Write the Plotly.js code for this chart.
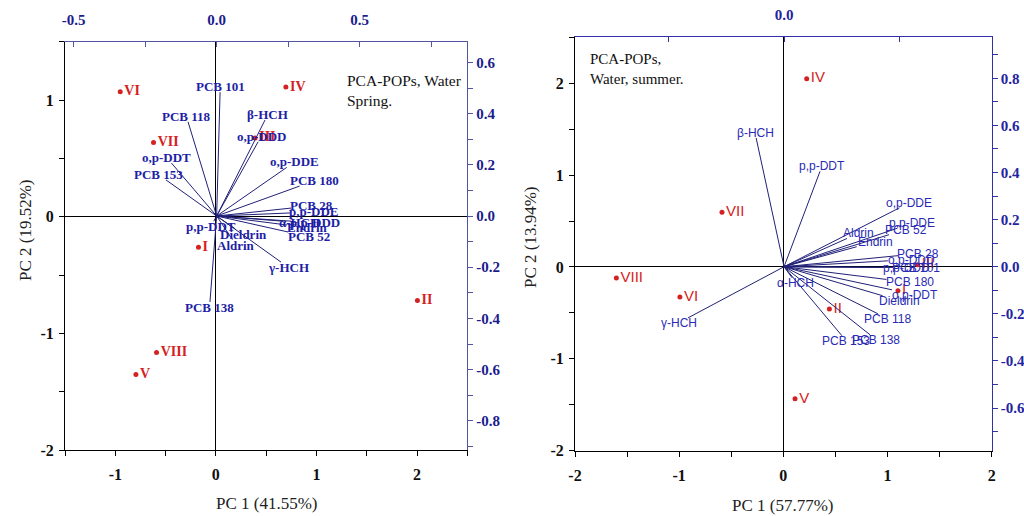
<!DOCTYPE html>
<html><head><meta charset="utf-8">
<script src="https://cdn.plot.ly/plotly-3.0.1.min.js"></script>
<style>html,body{margin:0;padding:0;background:#fff}</style>
</head><body><div id="chart" style="width:1024px;height:516px"></div>
<script>
// ---------- Panel A : water, spring ----------
const springSites = ['I','II','III','IV','V','VI','VII','VIII'];
const springPC1 = [-0.173, 2.004, 0.39, 0.696, -0.795, -0.951, -0.62, -0.59];
const springPC2 = [-0.262, -0.718, 0.675, 1.111, -1.353, 1.071, 0.635, -1.165];
const springVars = ['PCB 101','PCB 118','β-HCH','o,p-DDD','o,p-DDE','PCB 180','o,p-DDT','PCB 153','PCB 28','p,p-DDE','α-HCH','p,p-DDD','Endrin','PCB 52','p,p-DDT','Dieldrin','Aldrin','γ-HCH','PCB 138'];
const springLoad1 = [0.012, -0.10, 0.169, 0.145, 0.245, 0.29, -0.158, -0.177, 0.26, 0.256, 0.229, 0.26, 0.246, 0.25, -0.01, 0.065, 0.055, 0.225, -0.0234];
const springLoad2 = [0.484, 0.368, 0.375, 0.29, 0.19, 0.117, 0.207, 0.141, 0.031, 0.012, -0.02, -0.02, -0.035, -0.0625, -0.02, -0.05, -0.092, -0.18, -0.336];

// ---------- Panel B : water, summer ----------
const summerSites = ['I','II','III','IV','V','VI','VII','VIII'];
const summerPC1 = [1.10, 0.442, 1.29, 0.224, 0.112, -0.993, -0.589, -1.603];
const summerPC2 = [-0.258, -0.458, 0.025, 2.05, -1.435, -0.327, 0.595, -0.12];
const summerVars = ['β-HCH','p,p-DDT','o,p-DDE','p,p-DDE','Aldrin','Endrin','PCB 52','PCB 28','o,p-DDD','p,p-DDD','PCB 101','PCB 180','o,p-DDT','Dieldrin','PCB 118','PCB 138','PCB 153','γ-HCH','α-HCH'];
const summerLoad1 = [-0.121, 0.156, 0.50, 0.49, 0.273, 0.315, 0.455, 0.494, 0.45, 0.43, 0.472, 0.444, 0.468, 0.427, 0.407, 0.373, 0.251, -0.416, 0.035];
const summerLoad2 = [0.547, 0.405, 0.25, 0.163, 0.12, 0.085, 0.136, 0.047, 0.025, -0.003, -0.003, -0.054, -0.098, -0.123, -0.20, -0.289, -0.293, -0.217, -0.047];

// ---------- tick labels ----------
const scoreTicksA_x = [-1, 0, 1, 2];          const scoreTextA_x = ['-1','0','1','2'];
const scoreTicksA_y = [-2, -1, 0, 1];         const scoreTextA_y = ['-2','-1','0','1'];
const loadTicksA_x = [-0.5, 0, 0.5];          const loadTextA_x = ['-0.5','0.0','0.5'];
const loadTicksA_y = [-0.8,-0.6,-0.4,-0.2,0,0.2,0.4,0.6];
const loadTextA_y = ['-0.8','-0.6','-0.4','-0.2','0.0','0.2','0.4','0.6'];
const scoreTicksB_x = [-2,-1,0,1,2];          const scoreTextB_x = ['-2','-1','0','1','2'];
const scoreTicksB_y = [-2,-1,0,1,2];          const scoreTextB_y = ['-2','-1','0','1','2'];
const loadTicksB_x = [-0.5, 0, 0.5];          const loadTextB_x = ['', '0.0', ''];
const loadTicksB_y = [-0.6,-0.4,-0.2,0,0.2,0.4,0.6,0.8];
const loadTextB_y = ['-0.6','-0.4','-0.2','0.0','0.2','0.4','0.6','0.8'];

// ---------- geometry ----------
const W = 1024, H = 516;
const domA_x = [65/W, 467.3/W], domA_y = [1-450/H, 1-41.7/H];
const domB_x = [575/W, 991.7/W], domB_y = [1-450.7/H, 1-37.3/H];
const rA_x = [-1.5, 2.5], rA_y = [-2, 1.5], rA_lx = [-0.530, 0.876], rA_ly = [-0.914, 0.681];
const rB_x = [-2, 2], rB_y = [-2, 2.5], rB_lx = [-0.906, 0.900], rB_ly = [-0.781, 0.974];

const SERIF = 'Liberation Serif, Times New Roman, serif';
const SANS = 'Liberation Sans, Arial, sans-serif';
const RED = '#d42222';
const LINE = '#202078';

function vecLines(lx, ly, xa, ya) {
  const x = [], y = [];
  lx.forEach((v, i) => { x.push(0, v, null); y.push(0, ly[i], null); });
  return {type:'scatter', mode:'lines', x, y, xaxis:xa, yaxis:ya,
          line:{color:LINE, width:1}, hoverinfo:'skip', cliponaxis:false};
}
function siteTrace(px, py, names, xa, ya, fam, wt, fs) {
  return {type:'scatter', mode:'markers+text', x:px, y:py, text:names,
          textposition:'middle right', xaxis:xa, yaxis:ya,
          marker:{color:RED, size:5},
          textfont:{family:fam, size:fs, color:RED, weight:wt}, hoverinfo:'skip', cliponaxis:false};
}
function vecLabels(names, lx, ly, xa, ya, dx, rx, dy, ry, font, charW) {
  const pxX = (dx[1]-dx[0])*W/(rx[1]-rx[0]);
  const pxY = (dy[1]-dy[0])*H/(ry[1]-ry[0]);
  return names.map((n, i) => {
    const vx = lx[i]*pxX, vy = ly[i]*pxY;
    const len = Math.hypot(vx, vy) || 1;
    const ux = vx/len, uy = vy/len;
    const hw = n.length*font.size*charW/2 + 1, hh = font.size*0.42;
    const t = Math.min(Math.abs(ux) > 1e-6 ? hw/Math.abs(ux) : 1e9, Math.abs(uy) > 1e-6 ? hh/Math.abs(uy) : 1e9);
    return {x:lx[i], y:ly[i], xref:xa, yref:ya, text:n, showarrow:false,
            xanchor:'center', yanchor:'middle', xshift:ux*t, yshift:uy*t,
            font:font, borderpad:0};
  });
}

const fontA = {family:SERIF, size:13, color:'#1e1ea6', weight:'bold'};
const fontB = {family:SANS, size:12, color:'#2a2ab4'};

const data = [
  vecLines(springLoad1, springLoad2, 'x2', 'y2'),
  siteTrace(springPC1, springPC2, springSites, 'x', 'y', SERIF, 'bold', 14),
  vecLines(summerLoad1, summerLoad2, 'x4', 'y4'),
  siteTrace(summerPC1, summerPC2, summerSites, 'x3', 'y3', SANS, 'normal', 15)
];

const blackAxis = {showline:true, linecolor:'#000', linewidth:1, ticks:'outside', ticklen:5, tickcolor:'#000',
  showgrid:false, zeroline:true, zerolinecolor:'#000', zerolinewidth:1,
  tickfont:{family:SERIF, size:16, color:'#111', weight:'bold'}, tickmode:'array', fixedrange:true,
  minor:{ticks:'outside', ticklen:5, tickcolor:'#000', tickmode:'linear', tick0:0, dtick:0.5, showgrid:false}};
const blueAxis = (lc, tc) => ({showline:true, linecolor:lc, linewidth:1, ticks:'outside', ticklen:5, tickcolor:lc,
  showgrid:false, zeroline:false, tickmode:'array', fixedrange:true,
  tickfont:{family:SERIF, size:15, color:tc, weight:'bold'}});

const layout = {
  width:W, height:H, margin:{l:0, r:0, t:0, b:0}, showlegend:false, hovermode:false,
  paper_bgcolor:'#fff', plot_bgcolor:'#fff',
  xaxis: Object.assign({}, blackAxis, {domain:domA_x, range:rA_x, anchor:'y', tickvals:scoreTicksA_x, ticktext:scoreTextA_x, ticklabelstandoff:5}),
  yaxis: Object.assign({}, blackAxis, {domain:domA_y, range:rA_y, anchor:'x', tickvals:scoreTicksA_y, ticktext:scoreTextA_y, ticklabelstandoff:2}),
  xaxis2: Object.assign(blueAxis('#5454a4', '#1c1c8c'), {overlaying:'x', side:'top', anchor:'y', range:rA_lx,
    tickvals:loadTicksA_x, ticktext:loadTextA_x, ticks:'inside', ticklabelstandoff:10,
    minor:{ticks:'inside', ticklen:5, tickcolor:'#5454a4', tickmode:'linear', tick0:0, dtick:0.25, showgrid:false}}),
  yaxis2: Object.assign(blueAxis('#5454a4', '#1c1c8c'), {overlaying:'y', side:'right', anchor:'x', range:rA_ly,
    tickvals:loadTicksA_y, ticktext:loadTextA_y,
    minor:{ticks:'outside', ticklen:5, tickcolor:'#5454a4', tickmode:'linear', tick0:0, dtick:0.1, showgrid:false}}),
  xaxis3: Object.assign({}, blackAxis, {domain:domB_x, range:rB_x, anchor:'y3', tickvals:scoreTicksB_x, ticktext:scoreTextB_x, ticklabelstandoff:5}),
  yaxis3: Object.assign({}, blackAxis, {domain:domB_y, range:rB_y, anchor:'x3', tickvals:scoreTicksB_y, ticktext:scoreTextB_y, ticklabelstandoff:2}),
  xaxis4: Object.assign(blueAxis('#3232a8', '#2424a0'), {overlaying:'x3', side:'top', anchor:'y3', range:rB_lx,
    tickvals:loadTicksB_x, ticktext:loadTextB_x, ticks:'inside', ticklabelstandoff:10}),
  yaxis4: Object.assign(blueAxis('#3232a8', '#2424a0'), {overlaying:'y3', side:'right', anchor:'x3', range:rB_ly,
    tickvals:loadTicksB_y, ticktext:loadTextB_y,
    minor:{ticks:'outside', ticklen:5, tickcolor:'#3232a8', tickmode:'linear', tick0:0, dtick:0.1, showgrid:false}}),
  annotations: [].concat(
    vecLabels(springVars, springLoad1, springLoad2, 'x2', 'y2', domA_x, rA_lx, domA_y, rA_ly, fontA, 0.5),
    vecLabels(summerVars, summerLoad1, summerLoad2, 'x4', 'y4', domB_x, rB_lx, domB_y, rB_ly, fontB, 0.53),
    [
      {xref:'paper', yref:'paper', x:266.7/W, y:1-503/H, text:'PC 1 (41.55%)', showarrow:false, xanchor:'center', yanchor:'middle', font:{family:SERIF, size:17, color:'#222'}},
      {xref:'paper', yref:'paper', x:25/W, y:1-230/H, text:'PC 2 (19.52%)', textangle:-90, showarrow:false, xanchor:'center', yanchor:'middle', font:{family:SERIF, size:17, color:'#222'}},
      {xref:'paper', yref:'paper', x:783/W, y:1-505/H, text:'PC 1 (57.77%)', showarrow:false, xanchor:'center', yanchor:'middle', font:{family:SERIF, size:17, color:'#222'}},
      {xref:'paper', yref:'paper', x:531/W, y:1-237/H, text:'PC 2 (13.94%)', textangle:-90, showarrow:false, xanchor:'center', yanchor:'middle', font:{family:SERIF, size:17, color:'#222'}},
      {xref:'paper', yref:'paper', x:345/W, y:1-70/H, text:'PCA-POPs, Water<br>Spring.', align:'left', showarrow:false, xanchor:'left', yanchor:'top', font:{family:SERIF, size:15.5, color:'#111'}},
      {xref:'paper', yref:'paper', x:588/W, y:1-49/H, text:'PCA-POPs,<br>Water, summer.', align:'left', showarrow:false, xanchor:'left', yanchor:'top', font:{family:SERIF, size:15, color:'#111'}}
    ])
};

Plotly.newPlot('chart', data, layout, {staticPlot:true, displayModeBar:false});
</script></body></html>
